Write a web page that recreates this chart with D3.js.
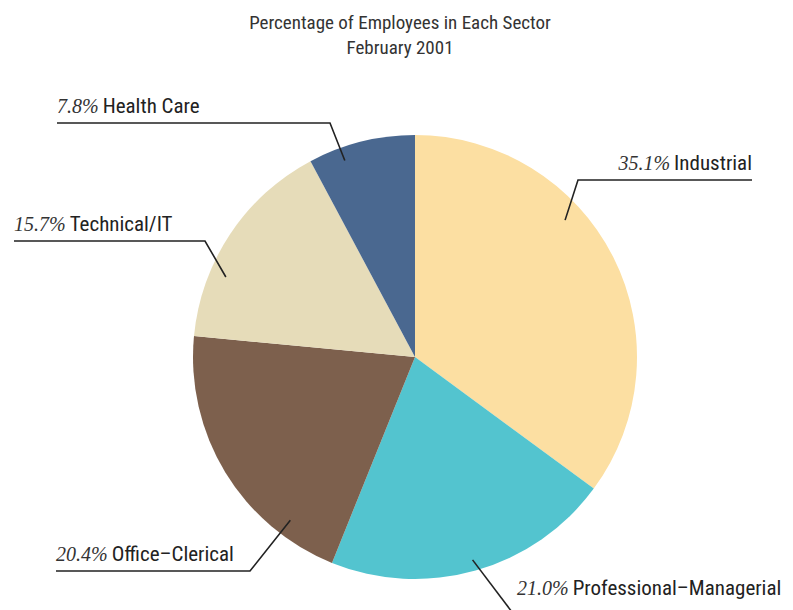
<!DOCTYPE html>
<html><head><meta charset="utf-8">
<script src="https://cdn.jsdelivr.net/npm/d3@7"></script>
<style>
body{margin:0;background:#fff;}
svg{display:block;}
</style></head>
<body>
<svg id="chart" width="793" height="610"></svg>
<script>
const categories = ["Industrial","Professional\u2013Managerial","Office\u2013Clerical","Technical/IT","Health Care"];
const values = [35.1, 21.0, 20.4, 15.7, 7.8];
const pctLabels = ["35.1%","21.0%","20.4%","15.7%","7.8%"];
const colors = ["#FCDFA2","#53C4CF","#7D604D","#E6DCB9","#4A6890"];
const titleLines = ["Percentage of Employees in Each Sector","February 2001"];

// leader layout: fraction along slice, radial fraction, elbow, line end, text placement
const leaders = [
  {frac:0.377, k:0.915, elbow:[578,180], end:[752,180], side:"right"},
  {frac:0.50,  k:0.95,  elbow:[515,616], end:[515,616], side:"prof"},
  {frac:0.21,  k:0.925, elbow:[250,571], end:[56,571],  side:"left"},
  {frac:0.31,  k:0.925, elbow:[205,241], end:[14,241],  side:"left"},
  {frac:0.30,  k:0.94,  elbow:[330,123], end:[57,123],  side:"left"}
];

const svg = d3.select("#chart");
const cx = 415, cy = 357, r = 222;
const sansFont = "'Liberation Sans Narrow','Roboto Condensed','Arial Narrow',sans-serif";
const serifFont = "'Liberation Serif','DejaVu Serif',serif";

svg.append("g").selectAll("text").data(titleLines).join("text")
  .attr("x", 400).attr("y", (d,i)=>29 + i*25)
  .attr("text-anchor","middle")
  .style("font-family", sansFont).style("font-size","19px").style("fill","#333")
  .text(d=>d);

const data = categories.map((c,i)=>({cat:c, value:values[i], pct:pctLabels[i], color:colors[i], lead:leaders[i]}));
const pie = d3.pie().value(d=>d.value).sort(null);
const arcs = pie(data);
const arc = d3.arc().innerRadius(0).outerRadius(r);

const g = svg.append("g").attr("transform",`translate(${cx},${cy})`);
g.selectAll("path").data(arcs).join("path")
  .attr("d", arc).attr("fill", d=>d.data.color);

const lg = svg.append("g");
arcs.forEach(a=>{
  const L = a.data.lead;
  const ang = a.startAngle + L.frac*(a.endAngle-a.startAngle);
  const sx = cx + r*L.k*Math.sin(ang), sy = cy - r*L.k*Math.cos(ang);
  const pts = [[sx,sy],L.elbow,L.end];
  lg.append("path").attr("d", d3.line()(pts))
    .attr("fill","none").attr("stroke","#222").attr("stroke-width",1.6);
  let tx, ty, anchor;
  if (L.side==="right") { tx = L.end[0]; ty = L.end[1]-10; anchor="end"; }
  else if (L.side==="left") { tx = L.end[0]; ty = L.end[1]-10; anchor="start"; }
  else { tx = 517; ty = 595; anchor="start"; }
  const t = lg.append("text").attr("x",tx).attr("y",ty).attr("text-anchor",anchor)
    .style("font-size","21px").style("fill","#222");
  t.append("tspan").style("font-family",serifFont).style("font-style","italic").style("font-size","20px").style("fill","#333").text(a.data.pct);
  t.append("tspan").attr("dx",4).style("font-family",sansFont).text(a.data.cat);
});
</script>
</body></html>
